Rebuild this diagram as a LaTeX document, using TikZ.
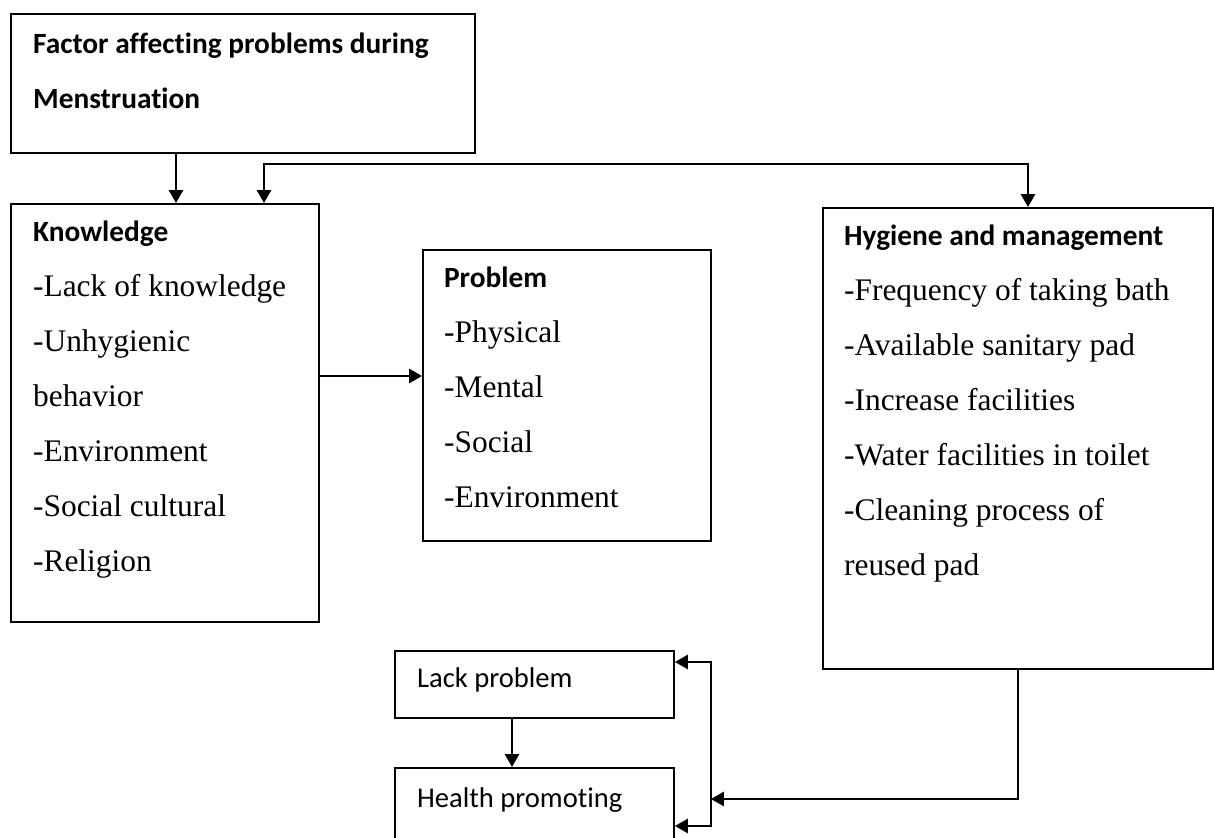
\documentclass[tikz,border=0pt]{standalone}
\usepackage{fontspec}
\setmainfont{Liberation Serif}
\newfontfamily\carlito[Ligatures=NoCommon]{Carlito}
\usetikzlibrary{arrows.meta}

\newcommand\hd[1]{{\carlito\bfseries\fontsize{11.3}{21.2}\selectfont #1}}
\newcommand\lines[1]{\begin{tabular}[t]{@{}l@{}}#1\end{tabular}}

\tikzset{
  box/.style={draw,line width=0.75pt,anchor=north west,inner sep=0pt},
  wh/.style 2 args={minimum width=#1*0.385pt,minimum height=#2*0.385pt},
  txt/.style={anchor=base west,inner sep=0pt,font=\fontsize{12.1}{21.2}\selectfont},
  small/.style={anchor=base west,inner sep=0pt,font=\carlito\fontsize{11}{13}\selectfont}
}

\begin{document}
\begin{tikzpicture}[x=0.385pt,y=-0.385pt,line width=0.85pt,>={Triangle[length=5pt,width=5.5pt]}]
  \useasboundingbox (0,0) rectangle (1214,838);
  \clip (0,0) rectangle (1214,838);
  % boxes
  \node[box,wh={464}{139}] (factor) at (10,13) {};
  \node[box,wh={308}{418}] (know) at (10,203) {};
  \node[box,wh={288}{291}] (prob) at (422,249) {};
  \node[box,wh={390}{461}] (hyg) at (822,207) {};
  \node[box,wh={279}{67}] (lack) at (394,650) {};
  \node[box,wh={279}{90}] (health) at (394,767) {};
  % texts
  \node[txt] (factortxt) at (32,53) {\lines{\hd{Factor affecting problems during}\\ \hd{Menstruation}}};
  \node[txt] (knowtxt) at (32,241) {\lines{\hd{Knowledge}\\ -Lack of knowledge\\ -Unhygienic\\ behavior\\ -Environment\\ -Social cultural\\ -Religion}};
  \node[txt] (probtxt) at (443,287) {\lines{\hd{Problem}\\ -Physical\\ -Mental\\ -Social\\ -Environment}};
  \node[txt] (hygtxt) at (843,245) {\lines{\hd{Hygiene and management}\\ -Frequency of taking bath\\ -Available sanitary pad\\ -Increase facilities\\ -Water facilities in toilet\\ -Cleaning process of\\ reused pad}};
  \node[small] (lacktxt) at (416,687) {Lack problem};
  \node[small] (healthtxt) at (416,807) {Health promoting};
  % connectors
  \draw[->] (factor.south -| 176,0) -- (know.north -| 176,0);
  \draw[<->] (know.north -| 264,0) -- ++(0,-39) -| (hyg.north -| 1028,0);
  \draw[->] (know.east |- 0,376) -- (prob.west |- 0,376);
  \coordinate (bus) at (711,799);
  \draw[->] (hyg.south -| 1018,0) |- (bus);
  \draw[<->] (lack.east |- 0,662) -| (bus) |- (health.east |- 0,826);
  \draw[->] (lack.south -| 512,0) -- (health.north -| 512,0);
\end{tikzpicture}
\end{document}
